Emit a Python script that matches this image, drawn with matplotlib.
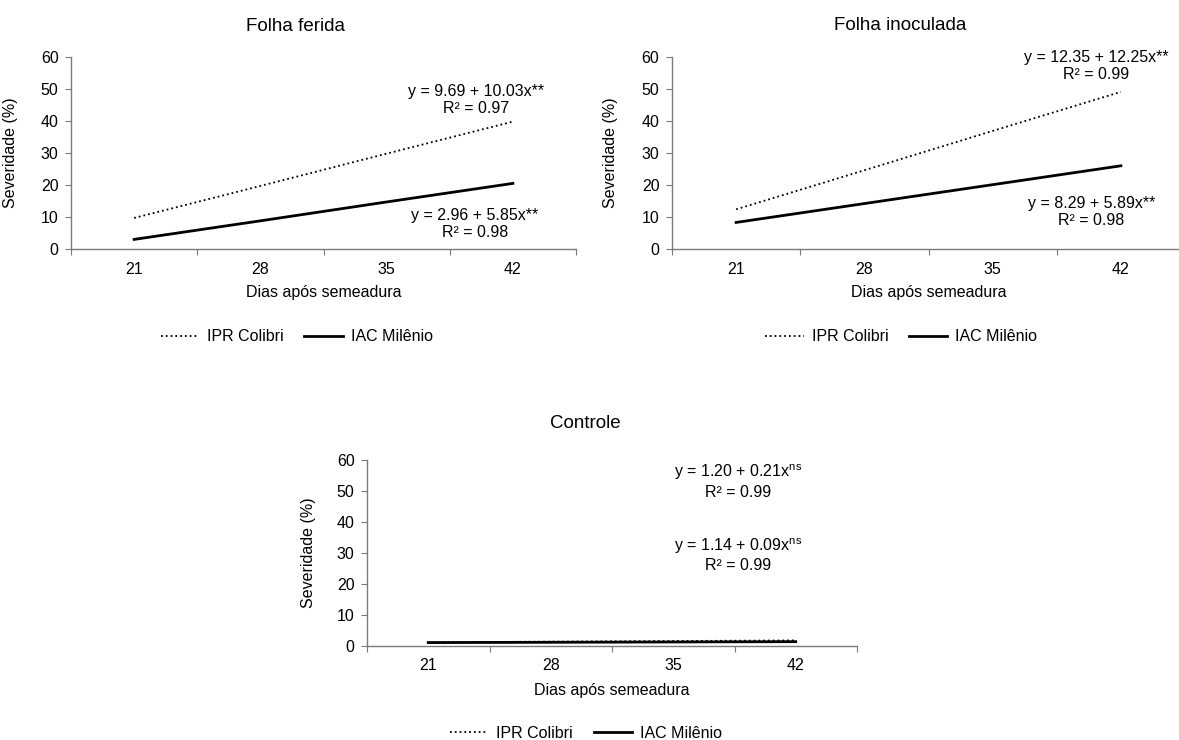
import numpy as np
from matplotlib import pyplot as plt

DAYS = ["21", "28", "35", "42"]

FERIDA_COLIBRI = [9.7, 19.7, 29.8, 39.8]
FERIDA_MILENIO = [3.0, 8.8, 14.7, 20.5]
INOCULADA_COLIBRI = [12.4, 24.6, 36.9, 49.1]
INOCULADA_MILENIO = [8.3, 14.2, 20.1, 26.0]
CONTROLE_COLIBRI = [1.2, 1.4, 1.6, 1.8]
CONTROLE_MILENIO = [1.1, 1.2, 1.3, 1.4]

TITLES = ["Folha ferida", "Folha inoculada", "Controle"]
EQ_COLIBRI = [
    "y = 9.69 + 10.03x**\nR² = 0.97",
    "y = 12.35 + 12.25x**\nR² = 0.99",
    "y = 1.20 + 0.21x$^{\\rm ns}$\nR² = 0.99",
]
EQ_MILENIO = [
    "y = 2.96 + 5.85x**\nR² = 0.98",
    "y = 8.29 + 5.89x**\nR² = 0.98",
    "y = 1.14 + 0.09x$^{\\rm ns}$\nR² = 0.99",
]
# annotation anchor (x in category units, y in data units)
EQ_COLIBRI_POS = [(2.71, 46.6), (2.81, 57.2), (2.53, 53.2)]
EQ_MILENIO_POS = [(2.70, 7.8), (2.77, 11.6), (2.53, 29.5)]

AXIS_COLOR = "#7a7a7a"
FS = 11.5

plt.rcParams["font.family"] = ["Liberation Sans", "DejaVu Sans"]
plt.rcParams["mathtext.fontset"] = "custom"
plt.rcParams["mathtext.rm"] = "Liberation Sans"
plt.rcParams["mathtext.it"] = "Liberation Sans:italic"


def draw_panel(ax, colibri, milenio, title, eq_c, eq_m, pos_c, pos_m, title_y, xlabel_y, legend_y):
    x = np.arange(len(DAYS))
    ax.plot(x, milenio, color="black", lw=2.0, ls="-", label="IAC Milênio", zorder=2)
    ax.plot(x, colibri, color="black", lw=1.3, ls=":", label="IPR Colibri", zorder=3)

    ax.set_xlim(-0.5, len(DAYS) - 0.5)
    ax.set_ylim(0, 60)
    ax.set_yticks(np.arange(0, 61, 10))
    ax.set_xticks(np.arange(-0.5, len(DAYS)))
    ax.set_xticklabels([])
    ax.set_xticks(x, minor=True)
    ax.set_xticklabels(DAYS, minor=True)

    for side in ("top", "right"):
        ax.spines[side].set_visible(False)
    for side in ("left", "bottom"):
        ax.spines[side].set_color(AXIS_COLOR)
        ax.spines[side].set_linewidth(1.0)

    ax.tick_params(axis="both", which="major", direction="out", length=4,
                   color=AXIS_COLOR, labelsize=FS)
    ax.tick_params(axis="y", pad=5)
    ax.tick_params(axis="x", which="minor", length=0, pad=9, labelsize=FS)

    ax.text(0.445, title_y, title, transform=ax.transAxes, ha="center", va="center", fontsize=13.5)
    ax.text(0.5, xlabel_y, "Dias após semeadura", transform=ax.transAxes,
            ha="center", va="center", fontsize=FS)
    ax.set_ylabel("Severidade (%)", fontsize=FS)
    ax.yaxis.set_label_coords(-0.105, 0.5)

    ax.text(*pos_c, eq_c, ha="center", va="center", fontsize=FS, linespacing=1.2)
    ax.text(*pos_m, eq_m, ha="center", va="center", fontsize=FS, linespacing=1.2)

    handles, labels = ax.get_legend_handles_labels()
    ax.legend(handles[::-1], labels[::-1], loc="center", bbox_to_anchor=(0.447, legend_y),
              ncol=2, frameon=False, fontsize=FS, handlelength=2.4,
              handletextpad=0.5, columnspacing=1.3)


def main():
    W, H = 1179, 740
    fig = plt.figure(figsize=(W / 100, H / 100), dpi=100)

    ax1 = fig.add_axes([71 / W, 1 - 249 / H, 505 / W, 192 / H])
    ax2 = fig.add_axes([672 / W, 1 - 249 / H, 513 / W, 192 / H])
    ax3 = fig.add_axes([367 / W, 1 - 646 / H, 490 / W, 186 / H])

    draw_panel(ax1, FERIDA_COLIBRI, FERIDA_MILENIO, TITLES[0], EQ_COLIBRI[0], EQ_MILENIO[0],
               EQ_COLIBRI_POS[0], EQ_MILENIO_POS[0], 1.160, -0.229, -0.458)
    draw_panel(ax2, INOCULADA_COLIBRI, INOCULADA_MILENIO, TITLES[1], EQ_COLIBRI[1], EQ_MILENIO[1],
               EQ_COLIBRI_POS[1], EQ_MILENIO_POS[1], 1.165, -0.229, -0.458)
    draw_panel(ax3, CONTROLE_COLIBRI, CONTROLE_MILENIO, TITLES[2], EQ_COLIBRI[2], EQ_MILENIO[2],
               EQ_COLIBRI_POS[2], EQ_MILENIO_POS[2], 1.195, -0.237, -0.468)

    fig.savefig("out.png", dpi=100)
    plt.close(fig)


if __name__ == "__main__":
    main()
